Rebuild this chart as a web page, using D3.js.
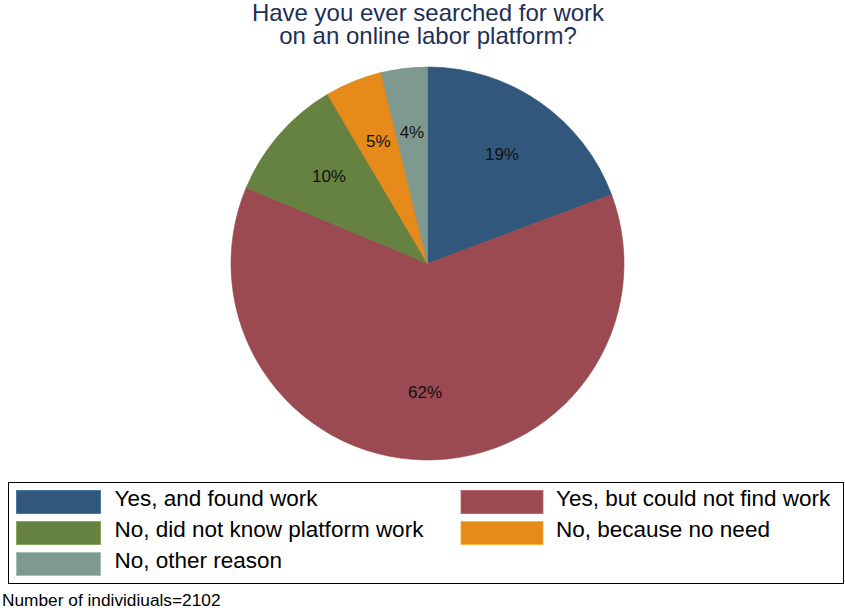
<!DOCTYPE html>
<html>
<head>
<meta charset="utf-8">
<script src="https://cdn.jsdelivr.net/npm/d3@7"></script>
<style>
  html, body { margin: 0; padding: 0; background: #ffffff; }
  svg { display: block; font-family: "Liberation Sans", Arial, Helvetica, sans-serif; }
</style>
</head>
<body>
<svg id="chart" width="845" height="611"></svg>
<script>
// Survey responses: share of respondents (%) in each answer group
const categories = [
  "Yes, and found work",
  "Yes, but could not find work",
  "No, did not know platform work",
  "No, because no need",
  "No, other reason"
];
const shares = [19.3, 62.0, 10.2, 4.7, 3.8];
const sliceColors = ["#31587c", "#9a4a50", "#668240", "#e68a1a", "#7e998f"];
const titleLines = ["Have you ever searched for work", "on an online labor platform?"];
const noteText = "Number of individiuals=2102";

const svg = d3.select("#chart");

// Title (two lines in one text block, tight leading)
svg.append("text")
  .attr("x", 428)
  .attr("y", 21)
  .attr("text-anchor", "middle")
  .attr("font-size", 24)
  .attr("fill", "#1e2f56")
  .selectAll("tspan")
  .data(titleLines)
  .join("tspan")
  .attr("x", 428)
  .attr("dy", (d, i) => i === 0 ? 0 : 23)
  .text(d => d);

// Pie
const cx = 427.5, cy = 263.5, R = 196.5;
const data = categories.map((c, i) => ({ label: c, value: shares[i], color: sliceColors[i] }));

const pie = d3.pie().value(d => d.value).sort(null);
const arcs = pie(data);
const arc = d3.arc().innerRadius(0).outerRadius(R);
const labelArc = d3.arc().innerRadius(R * 0.665).outerRadius(R * 0.665);

const g = svg.append("g").attr("transform", `translate(${cx},${cy})`);

g.selectAll("path")
  .data(arcs)
  .join("path")
  .attr("d", arc)
  .attr("fill", d => d.data.color)
  .attr("stroke", d => d3.color(d.data.color).darker(0.15))
  .attr("stroke-width", 0.6);

g.selectAll("text.pct")
  .data(arcs)
  .join("text")
  .attr("class", "pct")
  .attr("transform", d => `translate(${labelArc.centroid(d)})`)
  .attr("text-anchor", "middle")
  .attr("dy", "0.25em")
  .attr("font-size", 17)
  .attr("fill", "#111111")
  .text(d => d3.format(".0f")(d.data.value) + "%");

// Legend
const legend = svg.append("g");
legend.append("rect")
  .attr("x", 8.5).attr("y", 482.5)
  .attr("width", 835).attr("height", 101)
  .attr("fill", "none")
  .attr("stroke", "#000000")
  .attr("stroke-width", 1);

const colX = [16.5, 461];
const rowY = [490.5, 521.5, 552.5];
const items = legend.selectAll("g.item")
  .data(data)
  .join("g")
  .attr("class", "item")
  .attr("transform", (d, i) => `translate(${colX[i % 2]},${rowY[Math.floor(i / 2)]})`);

items.append("rect")
  .attr("width", (d, i) => i % 2 === 0 ? 84 : 82)
  .attr("height", 23)
  .attr("fill", d => d.color)
  .attr("stroke", d => d3.color(d.color).brighter(0.6))
  .attr("stroke-width", 0.8);

items.append("text")
  .attr("x", (d, i) => i % 2 === 0 ? 98 : 95)
  .attr("y", 15)
  .attr("font-size", 22.5)
  .attr("fill", "#000000")
  .text(d => d.label);

// Footnote
svg.append("text")
  .attr("x", 2)
  .attr("y", 606)
  .attr("font-size", 17.3)
  .attr("fill", "#000000")
  .text(noteText);
</script>
</body>
</html>
